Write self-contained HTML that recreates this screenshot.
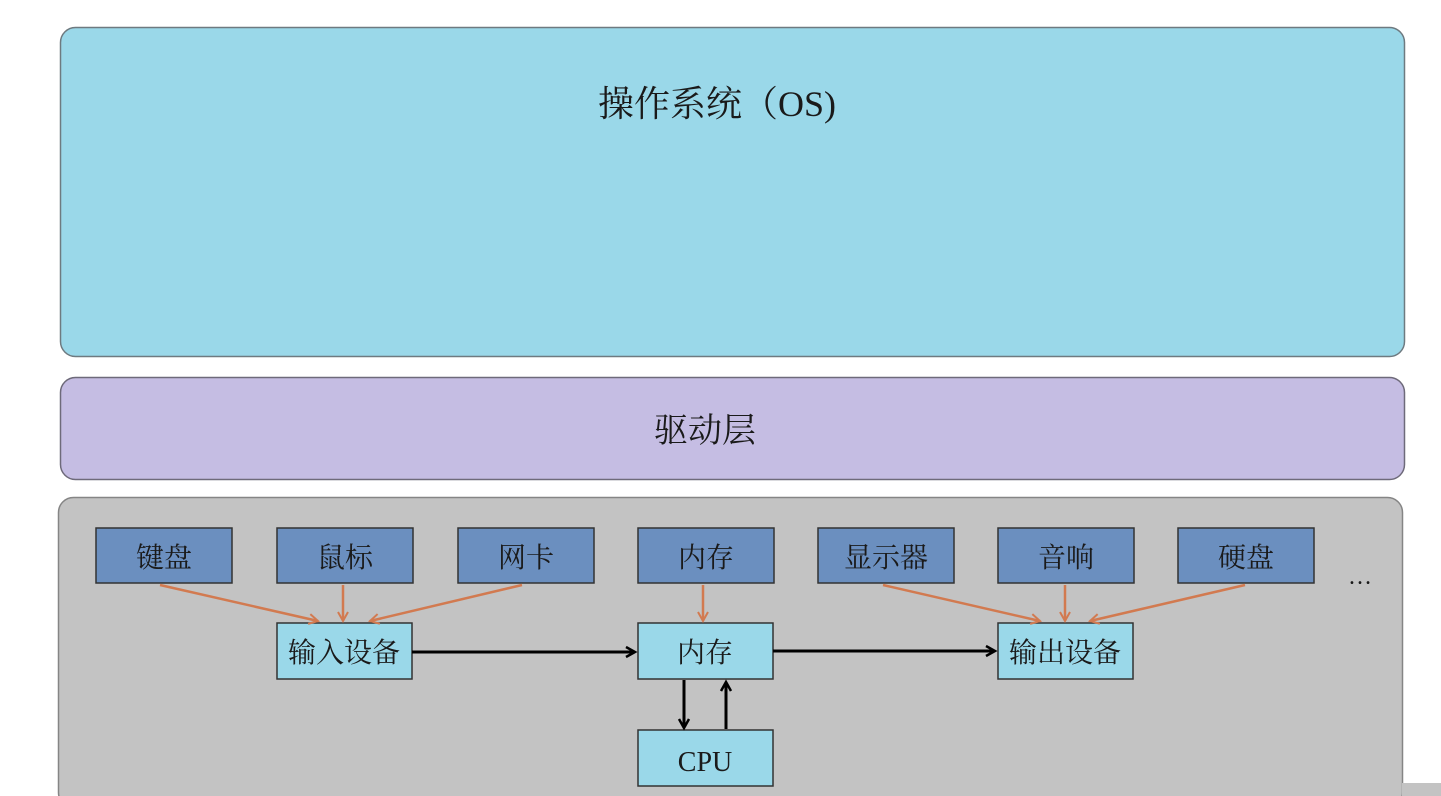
<!DOCTYPE html>
<html><head><meta charset="utf-8"><style>
html,body{margin:0;padding:0;background:#fff;}
svg{display:block;}
text{font-family:"Liberation Serif","Noto Serif CJK SC",serif;fill:#1a1a1a;}
</style></head><body>
<svg width="1441" height="796" viewBox="0 0 1441 796" xmlns="http://www.w3.org/2000/svg">
<defs>
<marker id="ob" markerWidth="14" markerHeight="14" refX="11" refY="7" orient="auto" markerUnits="userSpaceOnUse">
<path d="M2,2 L11,7 L2,12" fill="none" stroke="#d27a50" stroke-width="2"/></marker>
<marker id="bk" markerWidth="14" markerHeight="14" refX="11" refY="7" orient="auto" markerUnits="userSpaceOnUse">
<path d="M2,2 L11,7 L2,12" fill="none" stroke="#000" stroke-width="2.5"/></marker>
</defs>
<rect x="60.5" y="27.5" width="1344" height="329" rx="15" fill="#9ad8e9" stroke="#6e7a80" stroke-width="1.5"/>
<text x="717" y="116" font-size="36" text-anchor="middle">操作系统（OS)</text>
<rect x="60.5" y="377.5" width="1344" height="102" rx="15" fill="#c5bde3" stroke="#6e6a7a" stroke-width="1.5"/>
<text x="705" y="442" font-size="34" text-anchor="middle">驱动层</text>
<rect x="58.5" y="497.5" width="1344" height="310" rx="15" fill="#c3c3c3" stroke="#858585" stroke-width="1.5"/>
<rect x="1402" y="783" width="39" height="13" fill="#c3c3c3"/>
<g stroke="#333" stroke-width="1.5" fill="#6b8fbf">
<rect x="96" y="528" width="136" height="55"/>
<rect x="277" y="528" width="136" height="55"/>
<rect x="458" y="528" width="136" height="55"/>
<rect x="638" y="528" width="136" height="55"/>
<rect x="818" y="528" width="136" height="55"/>
<rect x="998" y="528" width="136" height="55"/>
<rect x="1178" y="528" width="136" height="55"/>
</g>
<g stroke="#333" stroke-width="1.5" fill="#9ad8e9">
<rect x="277" y="623" width="135" height="56"/>
<rect x="638" y="623" width="135" height="56"/>
<rect x="998" y="623" width="135" height="56"/>
<rect x="638" y="730" width="135" height="56"/>
</g>
<g font-size="28" text-anchor="middle">
<text x="164" y="567">键盘</text>
<text x="345" y="567">鼠标</text>
<text x="526" y="567">网卡</text>
<text x="706" y="567">内存</text>
<text x="886" y="567">显示器</text>
<text x="1066" y="567">音响</text>
<text x="1246" y="567">硬盘</text>
<text x="344" y="662">输入设备</text>
<text x="705" y="662">内存</text>
<text x="1065" y="662">输出设备</text>
<text x="705" y="771">CPU</text>
<text x="1360" y="584" font-size="24">…</text>
</g>
<g stroke="#d27a50" stroke-width="2.5" fill="none">
<line x1="160" y1="585" x2="318" y2="621" marker-end="url(#ob)"/>
<line x1="343" y1="585" x2="343" y2="621" marker-end="url(#ob)"/>
<line x1="522" y1="585" x2="370" y2="621" marker-end="url(#ob)"/>
<line x1="703" y1="585" x2="703" y2="621" marker-end="url(#ob)"/>
<line x1="883" y1="585" x2="1040" y2="621" marker-end="url(#ob)"/>
<line x1="1065" y1="585" x2="1065" y2="621" marker-end="url(#ob)"/>
<line x1="1245" y1="585" x2="1090" y2="621" marker-end="url(#ob)"/>
</g>
<g stroke="#000" stroke-width="3" fill="none">
<line x1="412" y1="652" x2="635" y2="652" marker-end="url(#bk)"/>
<line x1="773" y1="651" x2="995" y2="651" marker-end="url(#bk)"/>
<line x1="684" y1="680" x2="684" y2="728" marker-end="url(#bk)"/>
<line x1="726" y1="729" x2="726" y2="682" marker-end="url(#bk)"/>
</g>
</svg>
</body></html>
